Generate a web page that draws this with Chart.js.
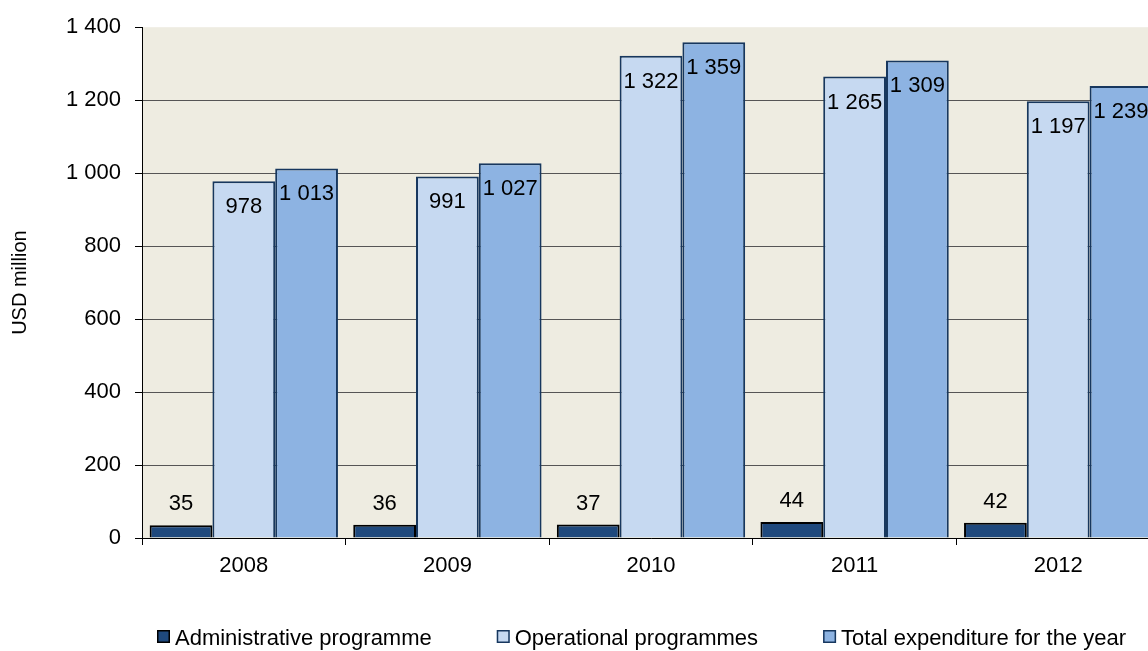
<!DOCTYPE html>
<html>
<head>
<meta charset="utf-8">
<script src="https://cdn.jsdelivr.net/npm/chart.js@4/dist/chart.umd.min.js"></script>
<style>
  html, body { margin: 0; padding: 0; background: #fff; overflow: hidden; }
  #wrap { width: 1160px; height: 651px; }
</style>
</head>
<body>
<div id="wrap"><canvas id="c" width="1160" height="651"></canvas></div>
<script>
// Expenditure by programme, USD million
const years = ['2008', '2009', '2010', '2011', '2012'];
const administrative = [35, 36, 37, 44, 42];
const operational = [978, 991, 1322, 1265, 1197];
const totalExpenditure = [1013, 1027, 1359, 1309, 1239];
const seriesNames = ['Administrative programme', 'Operational programmes', 'Total expenditure for the year'];
const yTicks = [0, 200, 400, 600, 800, 1000, 1200, 1400];

const FONT = '"Liberation Sans", Arial, sans-serif';

// thousands separated by a space: 1 400
const fmt = v => String(v).replace(/\B(?=(\d{3})+(?!\d))/g, ' ');

const plotBackground = {
  id: 'plotBackground',
  beforeDraw(chart) {
    const { ctx, chartArea: a } = chart;
    ctx.save();
    ctx.fillStyle = '#EEECE1';
    ctx.fillRect(a.left, a.top, a.right - a.left, a.bottom - a.top);
    ctx.restore();
  }
};

const valueLabels = {
  id: 'valueLabels',
  afterDatasetsDraw(chart) {
    const { ctx } = chart;
    ctx.save();
    ctx.font = '22px ' + FONT;
    ctx.fillStyle = '#000';
    ctx.textAlign = 'center';
    ctx.textBaseline = 'middle';
    chart.data.datasets.forEach((ds, di) => {
      const meta = chart.getDatasetMeta(di);
      meta.data.forEach((bar, i) => {
        const y = di === 0 ? bar.y - 21 : bar.y + 26;
        ctx.fillText(fmt(ds.data[i]), bar.x, y);
      });
    });
    ctx.restore();
  }
};

const bottomLegend = {
  id: 'bottomLegend',
  afterDraw(chart) {
    const { ctx } = chart;
    ctx.save();
    ctx.font = '22px ' + FONT;
    ctx.textBaseline = 'alphabetic';
    ctx.textAlign = 'left';
    let x = 157;
    const box = 13, baseline = 645;
    chart.data.datasets.forEach(ds => {
      ctx.fillStyle = ds.backgroundColor;
      ctx.fillRect(x, baseline - 15, box, box);
      ctx.strokeStyle = ds.borderColor;
      ctx.lineWidth = 1.5;
      ctx.strokeRect(x + 0.75, baseline - 15 + 0.75, box - 1.5, box - 1.5);
      ctx.fillStyle = '#000';
      ctx.fillText(ds.label, x + box + 5, baseline);
      x += box + 5 + ctx.measureText(ds.label).width + 65;
    });
    ctx.restore();
  }
};

new Chart(document.getElementById('c'), {
  type: 'bar',
  data: {
    labels: years,
    datasets: [
      { label: seriesNames[0], data: administrative, backgroundColor: '#1F497D', borderColor: '#000000', borderWidth: 2 },
      { label: seriesNames[1], data: operational, backgroundColor: '#C6D9F1', borderColor: '#17375E', borderWidth: 2 },
      { label: seriesNames[2], data: totalExpenditure, backgroundColor: '#8DB3E2', borderColor: '#17375E', borderWidth: 2 }
    ]
  },
  options: {
    responsive: false,
    animation: false,
    devicePixelRatio: 1,
    layout: { padding: { top: 25, right: 0, bottom: 0, left: 0 } },
    datasets: { bar: { categoryPercentage: 0.925, barPercentage: 1.0 } },
    plugins: {
      legend: { display: false },
      tooltip: { enabled: false }
    },
    scales: {
      x: {
        grid: { offset: true, drawOnChartArea: false, drawTicks: true, tickLength: 7, tickColor: '#000', color: '#000' },
        border: { display: true, color: '#000', width: 1 },
        ticks: { color: '#000', font: { family: FONT, size: 22 }, padding: 8, maxRotation: 0 },
        afterFit(scale) { scale.height = 113; }
      },
      y: {
        min: 0,
        max: 1400,
        afterBuildTicks(scale) { scale.ticks = yTicks.map(v => ({ value: v })); },
        grid: {
          color: c => (c.tick && c.tick.value === 1400 ? 'rgba(0,0,0,0)' : '#555'),
          tickColor: '#000',
          tickLength: 7,
          lineWidth: 1
        },
        border: { display: true, color: '#000', width: 1 },
        ticks: { color: '#000', font: { family: FONT, size: 22 }, padding: 14, callback: v => fmt(v) },
        title: { display: true, text: 'USD million', color: '#000', font: { family: FONT, size: 20 }, padding: { top: 8, bottom: 0 } },
        afterFit(scale) { scale.width = 142; }
      }
    }
  },
  plugins: [plotBackground, valueLabels, bottomLegend]
});
</script>
</body>
</html>
